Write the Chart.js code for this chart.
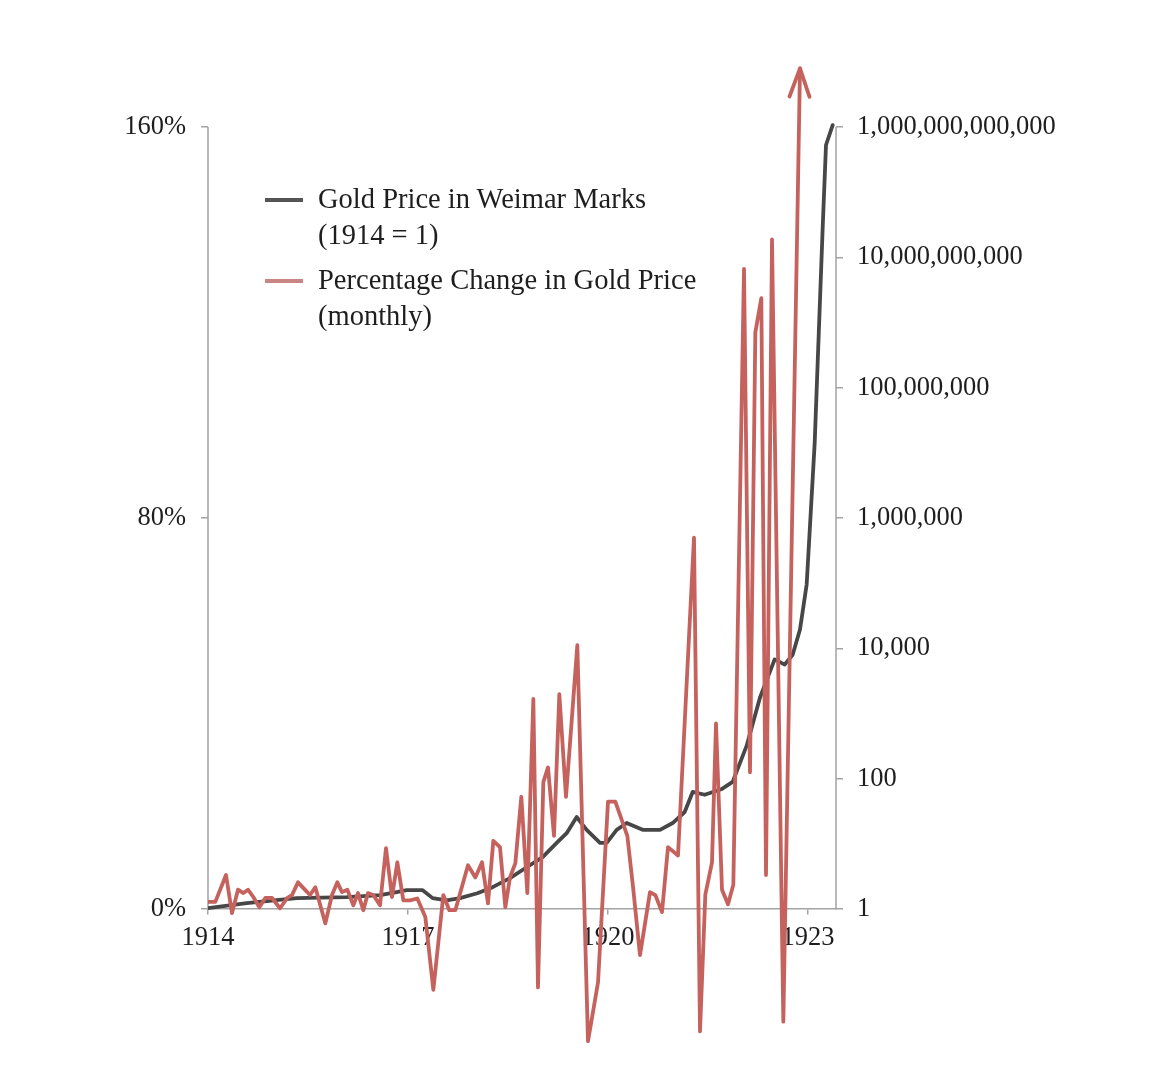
<!DOCTYPE html>
<html>
<head>
<meta charset="utf-8">
<script src="https://cdn.jsdelivr.net/npm/chart.js@4.4.1/dist/chart.umd.min.js"></script>
<style>
  html, body { margin: 0; padding: 0; background: #ffffff; }
  #wrap { position: relative; width: 1170px; height: 1077px; overflow: hidden; }
  #c { position: absolute; left: 0; top: 0; }
  .lg-line { position: absolute; left: 265px; width: 38px; height: 4px; }
  .lg-text { position: absolute; left: 318px; font-family: "Liberation Serif", "DejaVu Serif", serif;
             font-size: 28.5px; line-height: 36px; color: #1e1e1e; white-space: nowrap; }
</style>
</head>
<body>
<div id="wrap">
  <canvas id="c" width="1170" height="1077"></canvas>
  <div class="lg-line" style="top:198px;background:#555555;"></div>
  <div class="lg-text" style="top:181px;">Gold Price in Weimar Marks<br>(1914 = 1)</div>
  <div class="lg-line" style="top:279px;background:#c98582;"></div>
  <div class="lg-text" style="top:262px;">Percentage Change in Gold Price<br>(monthly)</div>
</div>
<script>
// ---------- data ----------
const xTickYears = [1914, 1917, 1920, 1923];
const pctTicks = [0, 80, 160];
const goldTicks = [1, 1e2, 1e4, 1e6, 1e8, 1e10, 1e12];

// Gold price in Weimar marks (1914 = 1), right log axis
const goldYears = [1914.00, 1914.58, 1915.33, 1916.08, 1916.58, 1916.83, 1916.98, 1917.22, 1917.37, 1917.58,
                   1917.78, 1918.04, 1918.27, 1918.53, 1918.78, 1919.02, 1919.23, 1919.38, 1919.53, 1919.68,
                   1919.88, 1919.98, 1920.13, 1920.28, 1920.52, 1920.78, 1920.97, 1921.15, 1921.27, 1921.45,
                   1921.71, 1921.87, 1922.08, 1922.28, 1922.50, 1922.65, 1922.77, 1922.88, 1922.98, 1923.10,
                   1923.22, 1923.27, 1923.37];
const goldIndex = [1.04, 1.24, 1.48, 1.53, 1.64, 1.83, 1.96, 1.96, 1.48, 1.37,
                   1.48, 1.76, 2.18, 3.0, 4.4, 6.3, 10.4, 14.7, 26, 16.5,
                   10.4, 10.4, 16.5, 21, 16.5, 16.5, 21, 31, 63, 57,
                   70, 90, 323, 1770, 6800, 5650, 8000, 19600, 96000, 1.4e7,
                   2.8e10, 5.3e11, 1.07e12];

// Monthly percentage change in gold price, left axis
const changeYears = [1914.00, 1914.11, 1914.27, 1914.36, 1914.45, 1914.53, 1914.60, 1914.68, 1914.77, 1914.86,
                     1914.96, 1915.08, 1915.19, 1915.26, 1915.35, 1915.46, 1915.53, 1915.61, 1915.76, 1915.86,
                     1915.94, 1916.01, 1916.09, 1916.18, 1916.25, 1916.33, 1916.40, 1916.48, 1916.58, 1916.67,
                     1916.76, 1916.84, 1916.93, 1917.03, 1917.14, 1917.26, 1917.38, 1917.53, 1917.62, 1917.71,
                     1917.90, 1918.01, 1918.11, 1918.20, 1918.28, 1918.38, 1918.46, 1918.53, 1918.61, 1918.70,
                     1918.79, 1918.88, 1918.95, 1919.03, 1919.10, 1919.19, 1919.27, 1919.37, 1919.54, 1919.70,
                     1919.85, 1920.00, 1920.11, 1920.29, 1920.38, 1920.48, 1920.63, 1920.71, 1920.81, 1920.90,
                     1921.05, 1921.29, 1921.38, 1921.46, 1921.56, 1921.62, 1921.71, 1921.80, 1921.88, 1922.04,
                     1922.13, 1922.21, 1922.30, 1922.37, 1922.46, 1922.63, 1922.88];
const changePct = [1.5, 1.5, 7, -0.8, 4, 3.3, 4, 2.5, 0.4, 2.3,
                   2.3, 0.2, 2.3, 2.9, 5.5, 3.9, 2.9, 4.5, -2.9, 2.9,
                   5.5, 3.5, 4, 0.8, 3.3, -0.2, 3.3, 2.9, 0.8, 12.5,
                   2.5, 9.6, 1.8, 1.8, 2.2, -1.6, -16.5, 2.9, -0.2, -0.2,
                   9, 6.5, 9.6, 1.2, 14, 12.7, 0.4, 6.5, 9.4, 23,
                   3.3, 43, -16, 26, 29, 15, 44, 23, 54, -27,
                   -15, 22, 22, 15, 4, -9.4, 3.5, 2.9, -0.6, 12.7,
                   11, 76, -25, 3, 9.6, 38, 4, 1, 5, 131,
                   28, 118, 125, 7, 137, -23, 172];

// ---------- chart ----------
const PCT_MIN = -28, PCT_MAX = 174;
const DEC_PER_PCT = 12 / 160; // right log axis: 12 decades over 160 %
const SERIF = '"Liberation Serif", "DejaVu Serif", serif';
const AXIS_GREY = '#a3a3a3';
const RED = '#c5625d';
const DARK = '#474747';

const goldData = goldYears.map((x, i) => ({ x: x, y: goldIndex[i] }));
const changeData = changeYears.map((x, i) => ({ x: x, y: changePct[i] }));

const axisLines = {
  id: 'axisLines',
  beforeDatasetsDraw(chart) {
    const { ctx, chartArea, scales } = chart;
    const yTop = scales.y.getPixelForValue(pctTicks[pctTicks.length - 1]);
    const yBot = scales.y.getPixelForValue(0);
    const rTop = scales.y2.getPixelForValue(goldTicks[goldTicks.length - 1]);
    const rBot = scales.y2.getPixelForValue(goldTicks[0]);
    ctx.save();
    ctx.strokeStyle = AXIS_GREY;
    ctx.lineWidth = 1.5;
    ctx.beginPath();
    ctx.moveTo(chartArea.left, yBot); ctx.lineTo(chartArea.left, yTop);
    ctx.moveTo(chartArea.right, rBot); ctx.lineTo(chartArea.right, rTop);
    ctx.stroke();
    ctx.restore();
  }
};

const arrowHead = {
  id: 'arrowHead',
  afterDatasetsDraw(chart) {
    const meta = chart.getDatasetMeta(0);
    const pts = meta.data;
    if (pts.length < 2) return;
    const p = pts[pts.length - 1], q = pts[pts.length - 2];
    const ang = Math.atan2(p.y - q.y, p.x - q.x);
    const len = 30, spread = 0.34;
    const ctx = chart.ctx;
    ctx.save();
    ctx.strokeStyle = RED;
    ctx.lineWidth = 3.8;
    ctx.lineCap = 'round';
    ctx.lineJoin = 'round';
    ctx.beginPath();
    ctx.moveTo(p.x - len * Math.cos(ang - spread), p.y - len * Math.sin(ang - spread));
    ctx.lineTo(p.x, p.y);
    ctx.lineTo(p.x - len * Math.cos(ang + spread), p.y - len * Math.sin(ang + spread));
    ctx.stroke();
    ctx.restore();
  }
};

new Chart(document.getElementById('c'), {
  type: 'line',
  data: {
    datasets: [
      {
        label: 'Percentage Change in Gold Price (monthly)',
        data: changeData,
        yAxisID: 'y',
        borderColor: RED,
        borderWidth: 3.8,
        borderJoinStyle: 'round',
        borderCapStyle: 'round',
        pointRadius: 0,
        tension: 0,
        fill: false,
        order: 0
      },
      {
        label: 'Gold Price in Weimar Marks (1914 = 1)',
        data: goldData,
        yAxisID: 'y2',
        borderColor: DARK,
        borderWidth: 3.8,
        borderJoinStyle: 'round',
        borderCapStyle: 'round',
        pointRadius: 0,
        tension: 0,
        fill: false,
        order: 1
      }
    ]
  },
  options: {
    responsive: false,
    animation: false,
    layout: { padding: { top: 58.6, bottom: 0, left: 0, right: 0 } },
    plugins: { legend: { display: false }, tooltip: { enabled: false } },
    scales: {
      x: {
        type: 'linear',
        min: 1914,
        max: 1923.42,
        position: { y: 0 },
        afterBuildTicks: s => { s.ticks = xTickYears.map(v => ({ value: v })); },
        ticks: {
          callback: v => String(v),
          font: { family: SERIF, size: 26.5 },
          color: '#1e1e1e',
          padding: 8,
          maxRotation: 0,
          autoSkip: false
        },
        grid: { display: true, drawOnChartArea: false, drawTicks: true, tickLength: 5, color: AXIS_GREY, lineWidth: 1.5 },
        border: { display: true, color: AXIS_GREY, width: 1.5 }
      },
      y: {
        type: 'linear',
        position: 'left',
        min: PCT_MIN,
        max: PCT_MAX,
        afterBuildTicks: s => { s.ticks = pctTicks.map(v => ({ value: v })); },
        afterFit: s => { s.width = 208; },
        ticks: {
          callback: v => v + '%',
          font: { family: SERIF, size: 26.5 },
          color: '#1e1e1e',
          padding: 15
        },
        grid: { display: true, drawOnChartArea: false, drawTicks: true, tickLength: 7, color: AXIS_GREY, lineWidth: 1.5 },
        border: { display: false }
      },
      y2: {
        type: 'logarithmic',
        position: 'right',
        min: Math.pow(10, PCT_MIN * DEC_PER_PCT),
        max: Math.pow(10, PCT_MAX * DEC_PER_PCT),
        afterBuildTicks: s => { s.ticks = goldTicks.map(v => ({ value: v })); },
        afterFit: s => { s.width = 1170 - 836; },
        ticks: {
          callback: v => Number(v).toLocaleString('en-US'),
          font: { family: SERIF, size: 26.5 },
          color: '#1e1e1e',
          padding: 14
        },
        grid: { display: true, drawOnChartArea: false, drawTicks: true, tickLength: 7, color: AXIS_GREY, lineWidth: 1.5 },
        border: { display: false }
      }
    }
  },
  plugins: [axisLines, arrowHead]
});
</script>
</body>
</html>
